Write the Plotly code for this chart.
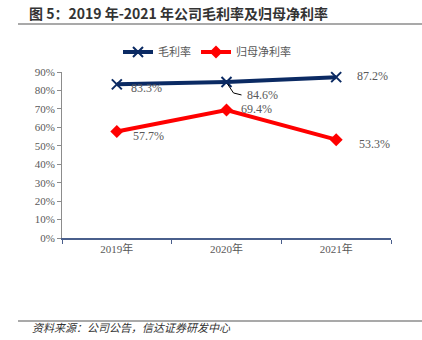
import plotly.graph_objects as go

# Data
years = ["2019年", "2020年", "2021年"]
gross_margin = [83.3, 84.6, 87.2]      # 毛利率 (%)
net_margin = [57.7, 69.4, 53.3]        # 归母净利率 (%)
y_ticks = [0, 10, 20, 30, 40, 50, 60, 70, 80, 90]

W, H = 422, 340
ML, MR, MT, MB = 62, 31, 72, 102
PW, PH = W - ML - MR, H - MT - MB

def px_x(px):
    return (px - ML) / PW

def px_y(py):
    return (H - MB - py) / PH

SERIF = "'Liberation Serif', 'Times New Roman', 'Noto Sans CJK SC', serif"
NAVY = "#0b2a63"
RED = "#ff0000"
GREY = "#595959"

fig = go.Figure()
fig.add_trace(go.Scatter(
    x=years, y=gross_margin, name="毛利率", mode="lines+markers",
    line=dict(color=NAVY, width=4),
    marker=dict(symbol="x-thin", size=10, line=dict(color=NAVY, width=2), color=NAVY),
    cliponaxis=False,
))
fig.add_trace(go.Scatter(
    x=years, y=net_margin, name="归母净利率", mode="lines+markers",
    line=dict(color=RED, width=4),
    marker=dict(symbol="diamond", size=10, color=RED),
    cliponaxis=False,
))

# Value labels (pixel offsets from each point)
label_font = dict(family=SERIF, size=12, color=GREY)
gm_offsets = [(30, -4), (36, -13), (36, 1)]
for (yr, v), (dx, dy) in zip(zip(years, gross_margin), gm_offsets):
    fig.add_annotation(x=yr, y=v, text=f"{v:.1f}%", showarrow=False,
                       xshift=dx, yshift=dy, font=label_font)
nm_offsets = [(32, -4), (30, 1), (38, -4)]
for (yr, v), (dx, dy) in zip(zip(years, net_margin), nm_offsets):
    fig.add_annotation(x=yr, y=v, text=f"{v:.1f}%", showarrow=False,
                       xshift=dx, yshift=dy, font=label_font)

# Leader line for the 2020 gross-margin label
fig.add_shape(type="path", xref="x", yref="y",
              xsizemode="pixel", ysizemode="pixel",
              xanchor=years[1], yanchor=gross_margin[1],
              path="M 1,-2 L 7,-11 L 15,-13",
              line=dict(color="#000000", width=1))

# Title, rules and source note
fig.add_annotation(xref="paper", yref="paper", x=px_x(27), y=px_y(13),
                   xanchor="left", yanchor="middle", showarrow=False,
                   text="<b>图 5：2019 年-2021 年公司毛利率及归母净利率</b>",
                   font=dict(family="Noto Sans CJK SC", size=14, color="#333333"))
fig.add_shape(type="line", xref="paper", yref="paper",
              x0=px_x(18), x1=px_x(422), y0=px_y(24), y1=px_y(24),
              line=dict(color="#555555", width=1.2))
fig.add_shape(type="line", xref="paper", yref="paper",
              x0=px_x(18), x1=px_x(422), y0=px_y(321), y1=px_y(321),
              line=dict(color="#555555", width=1.2))
fig.add_annotation(xref="paper", yref="paper", x=px_x(30), y=px_y(337),
                   xanchor="left", yanchor="bottom", showarrow=False,
                   text="<i>资料来源：公司公告，信达证券研发中心</i>",
                   font=dict(family="Noto Sans CJK SC", size=11, color="#333333"))

fig.update_layout(
    width=W, height=H,
    margin=dict(l=ML, r=MR, t=MT, b=MB),
    paper_bgcolor="white", plot_bgcolor="white",
    showlegend=True,
    legend=dict(orientation="h", x=px_x(207), xanchor="center",
                y=px_y(52), yanchor="middle",
                font=dict(family=SERIF, size=11, color=GREY),
                itemwidth=30, bgcolor="rgba(0,0,0,0)"),
    xaxis=dict(
        type="category", range=[-0.5, 2.5],
        showline=True, linecolor="#4a5f8c", linewidth=1.5,
        ticks="outside", tickson="boundaries", ticklen=4, tickcolor="#4a5f8c",
        showgrid=False, zeroline=False,
        tickfont=dict(family=SERIF, size=11, color=GREY),
    ),
    yaxis=dict(
        range=[0, 90], tickvals=y_ticks,
        ticktext=[f"{t}%" for t in y_ticks],
        showline=True, linecolor="#8c8c8c", linewidth=1,
        ticks="outside", ticklen=4, tickcolor="#8c8c8c",
        showgrid=False, zeroline=False,
        tickfont=dict(family=SERIF, size=11, color=GREY),
    ),
)

fig.write_html("out.html")
